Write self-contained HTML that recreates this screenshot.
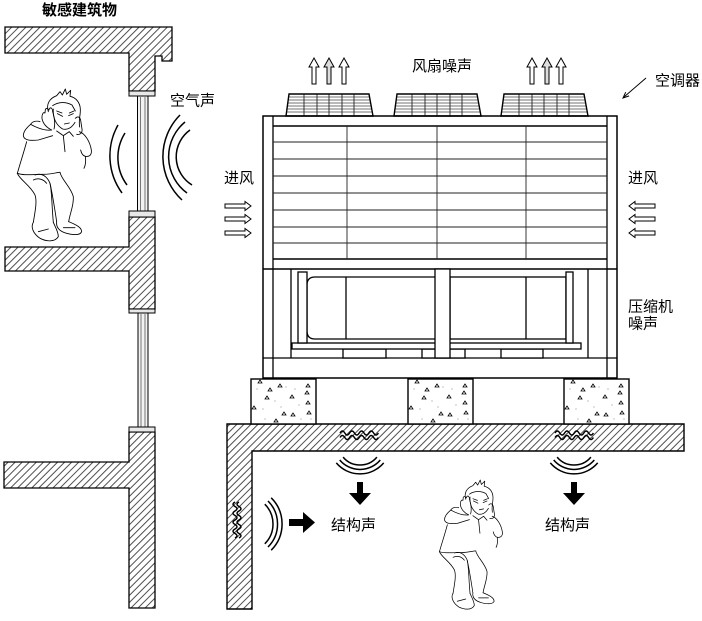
<!DOCTYPE html>
<html><head><meta charset="utf-8"><style>
html,body{margin:0;padding:0;background:#fff;}
svg{display:block;}
text{font-family:"Liberation Sans","Noto Sans CJK SC",sans-serif;font-size:15px;fill:#000;}
</style></head><body>
<svg width="702" height="621" viewBox="0 0 702 621" xmlns="http://www.w3.org/2000/svg">
<defs>
<pattern id="h" width="5" height="10" patternUnits="userSpaceOnUse" patternTransform="rotate(45)"><line x1="2.5" y1="-1" x2="2.5" y2="11" stroke="#222" stroke-width="0.8"/></pattern>
<clipPath id="fc"><polygon points="289,94 369,94 373,116 286,116"/></clipPath>
</defs>

<!-- Left building -->
<g fill="url(#h)" stroke="#000" stroke-width="1.3">
<polygon points="5,27 172,27 172,61 162,61 162,56 155,56 155,91 129,91 129,53 5,53"/>
<polygon points="129,217 155,217 155,309 129,309 129,271 5,271 5,247 129,247"/>
<polygon points="129,432 155,432 155,608 129,608 129,488 4,488 4,462 129,462"/>
</g>
<!-- windows -->
<g stroke="#000" stroke-width="1">
<rect x="129" y="91" width="26" height="5" fill="#e8e8e8"/>
<rect x="137.5" y="96" width="10.5" height="115" fill="#f2f2f2"/>
<line x1="140.5" y1="96" x2="140.5" y2="211" stroke="#777"/>
<line x1="145" y1="96" x2="145" y2="211" stroke="#777"/>
<rect x="129" y="211" width="26" height="6" fill="#e8e8e8"/>
<rect x="129" y="309" width="26" height="4" fill="#e8e8e8"/>
<rect x="138" y="313" width="10" height="114" fill="#f2f2f2"/>
<line x1="141" y1="313" x2="141" y2="427" stroke="#777"/>
<line x1="145" y1="313" x2="145" y2="427" stroke="#777"/>
<rect x="129" y="427" width="26" height="5" fill="#e8e8e8"/>
</g>

<!-- sound arcs near window -->
<g fill="none" stroke="#000" stroke-width="1.5">
<path d="M118,125 A63,63 0 0,0 122,193"/>
<path d="M125,133 A46,46 0 0,0 127,185"/>
<path d="M180,115 A59,59 0 0,0 182,200"/>
<path d="M185,122 A45,45 0 0,0 187,193"/>
<path d="M190,130 A33,33 0 0,0 192,185"/>
</g>

<!-- Person -->
<g id="man" transform="translate(10,85) scale(0.3333)" fill="none" stroke="#000" stroke-width="2.6" stroke-linejoin="round" stroke-linecap="round">
<path d="M115,80 C108,58 118,40 140,32 L150,20 L157,30 L166,12 L170,28 L182,16 L180,34 C198,38 210,52 211,72 C212,92 205,104 209,126"/>
<path d="M128,62 C145,50 168,50 186,60 L196,78"/>
<path d="M130,72 C128,98 138,120 158,132 C172,136 186,128 195,112"/>
<path d="M142,86 L158,94 M176,92 L190,86 M140,78 L156,84 M178,84 L192,78 M163,117 L178,114"/>
<path d="M125,135 C110,128 98,115 96,100 C95,88 100,80 105,84 L106,74 C108,68 115,70 116,76 L119,70 C124,66 128,72 128,80 C134,100 136,118 132,132"/>
<path d="M125,135 C105,138 80,128 62,118 C50,128 40,140 40,152 C42,165 60,168 85,165 L128,152"/>
<path d="M62,118 C66,110 78,106 90,110"/>
<path d="M50,170 C42,200 32,230 22,265"/>
<path d="M196,100 C203,92 210,96 212,106 L216,132 C218,144 210,150 200,148"/>
<path d="M208,140 C225,145 240,170 244,195 C246,210 238,216 226,214 C218,212 214,205 212,195"/>
<path d="M226,214 C228,228 228,238 222,250"/>
<path d="M22,265 C40,272 70,268 100,268 C125,268 140,262 150,262"/>
<path d="M140,138 L160,152 L178,140 L190,154 M160,152 L165,200"/>
<path d="M22,265 C30,285 60,300 75,330 C82,350 75,380 70,412"/>
<path d="M75,270 C95,262 112,275 120,295 C126,320 125,360 130,412"/>
<path d="M150,262 C155,285 182,305 190,335 C192,360 180,385 176,410"/>
<path d="M120,295 C128,330 134,370 140,410"/>
<path d="M70,285 C85,278 100,282 110,295"/>
<path d="M70,412 C62,425 68,445 90,460 C110,470 135,472 145,455 C145,440 135,425 130,412"/>
<path d="M140,410 C138,425 145,438 170,445 C190,450 210,452 215,440 C215,428 200,420 176,410"/>
<path d="M85,440 L115,432 M160,428 L195,428"/>
</g>
<use href="#man" transform="translate(440,480) scale(0.85) translate(-18,-89)"/>

<!-- AC unit frame -->
<g fill="none" stroke="#000">
<rect x="263" y="116" width="354" height="262" stroke-width="1.5"/>
<line x1="273" y1="116" x2="273" y2="378" stroke-width="1.3"/>
<line x1="607" y1="116" x2="607" y2="378" stroke-width="1.3"/>
<line x1="273" y1="126" x2="607" y2="126" stroke-width="1.4"/>
<line x1="273" y1="259" x2="607" y2="259" stroke-width="1.4"/>
<line x1="263" y1="269" x2="617" y2="269" stroke-width="1.4"/>
<line x1="263" y1="358" x2="617" y2="358" stroke-width="1.3"/>
<g stroke-width="0.9" stroke="#222">
<line x1="273" y1="142" x2="607" y2="142"/>
<line x1="273" y1="159" x2="607" y2="159"/>
<line x1="273" y1="176" x2="607" y2="176"/>
<line x1="273" y1="193" x2="607" y2="193"/>
<line x1="273" y1="210" x2="607" y2="210"/>
<line x1="273" y1="227" x2="607" y2="227"/>
<line x1="273" y1="243" x2="607" y2="243"/>
<line x1="347" y1="126" x2="347" y2="259"/>
<line x1="437" y1="126" x2="437" y2="259"/>
<line x1="526" y1="126" x2="526" y2="259"/>
</g>
</g>

<!-- Fans -->
<g id="fan">
<g clip-path="url(#fc)" stroke="#444" stroke-width="0.7">
<line x1="280" y1="97" x2="380" y2="97"/>
<line x1="280" y1="100" x2="380" y2="100"/>
<line x1="280" y1="103" x2="380" y2="103"/>
<line x1="280" y1="106" x2="380" y2="106"/>
<line x1="280" y1="109" x2="380" y2="109"/>
<line x1="280" y1="112" x2="380" y2="112"/>
</g>
<g stroke="#222" stroke-width="0.9">
<line x1="304" y1="94" x2="304" y2="116"/>
<line x1="317" y1="94" x2="317" y2="116"/>
<line x1="329" y1="94" x2="329" y2="116"/>
<line x1="342" y1="94" x2="342" y2="116"/>
<line x1="354" y1="94" x2="354" y2="116"/>
</g>
<polygon points="289,94 369,94 373,116 286,116" fill="none" stroke="#000" stroke-width="1.4"/>
</g>
<use href="#fan" transform="translate(108,0)"/>
<use href="#fan" transform="translate(215,0)"/>

<!-- Compressor section -->
<g fill="none" stroke="#000" stroke-width="1.3">
<line x1="291" y1="269" x2="291" y2="358"/>
<line x1="588" y1="269" x2="588" y2="358"/>
<rect x="343" y="349" width="43" height="9" fill="#fff"/>
<rect x="422" y="349" width="43" height="9" fill="#fff"/>
<rect x="501" y="349" width="42" height="9" fill="#fff"/>
<rect x="292" y="343" width="289" height="6" fill="#fff"/>
<path d="M435,277 L315,277 Q307,277 307,285 L307,331 Q307,339 315,339 L435,339"/>
<line x1="346" y1="277" x2="346" y2="339"/>
<rect x="450" y="277" width="116" height="62"/>
<line x1="526" y1="277" x2="526" y2="339"/>
<rect x="298" y="272" width="9" height="71" fill="#fff"/>
<rect x="566" y="272" width="7" height="71" fill="#fff"/>
<rect x="435" y="269" width="15" height="89" fill="#fff"/>
</g>

<!-- Floor slab & wall -->
<polygon points="227,424 684,424 684,451 252,451 252,609 227,609" fill="url(#h)" stroke="#000" stroke-width="1.4"/>

<!-- Concrete blocks -->
<g id="blk" transform="translate(251,379)">
<rect x="0" y="0" width="65" height="45" fill="#fff" stroke="#000" stroke-width="1.4"/>
<g fill="none" stroke="#000" stroke-width="0.8">
<path d="M19,9 l2,3 h-4z M29,5 l2,3 h-4z M57,5 l2,3 h-4z M16,17 l2,3 h-4z M41,16 l2,3 h-4z M56,12 l2,3 h-4z M57,22 l2,3 h-4z M33,33 l2,3 h-4z M42,34 l2,3 h-4z M58,32 l2,3 h-4z M3,27 l2,3 h-4z M9,1 l2,3 h-4z M25,40 l2,3 h-4z"/>
</g>
<g fill="#999">
<circle cx="6" cy="10" r="0.6"/><circle cx="12" cy="30" r="0.6"/><circle cx="24" cy="22" r="0.6"/><circle cx="35" cy="8" r="0.6"/><circle cx="48" cy="26" r="0.6"/><circle cx="50" cy="40" r="0.6"/><circle cx="14" cy="40" r="0.6"/><circle cx="30" cy="28" r="0.6"/><circle cx="44" cy="10" r="0.6"/><circle cx="60" cy="40" r="0.6"/>
</g>
</g>
<use href="#blk" transform="translate(157,0)"/>
<use href="#blk" transform="translate(313,0)"/>

<!-- wavy vibration lines -->
<g fill="none" stroke="#000" stroke-width="1.4">
<path d="M340,433 q2.4,-4 4.8,0 t4.8,0 t4.8,0 t4.8,0 t4.8,0 t4.8,0 t4.8,0 t4.8,0"/>
<path d="M340,437.5 q2.4,-4 4.8,0 t4.8,0 t4.8,0 t4.8,0 t4.8,0 t4.8,0 t4.8,0 t4.8,0"/>
<path d="M555,433 q2.4,-4 4.8,0 t4.8,0 t4.8,0 t4.8,0 t4.8,0 t4.8,0 t4.8,0 t4.8,0"/>
<path d="M555,437.5 q2.4,-4 4.8,0 t4.8,0 t4.8,0 t4.8,0 t4.8,0 t4.8,0 t4.8,0 t4.8,0"/>
<path d="M235,502 q-4,2.25 0,4.5 t0,4.5 t0,4.5 t0,4.5 t0,4.5 t0,4.5 t0,4.5 t0,4.5"/>
<path d="M239,502 q-4,2.25 0,4.5 t0,4.5 t0,4.5 t0,4.5 t0,4.5 t0,4.5 t0,4.5 t0,4.5"/>
</g>

<!-- Structure sound arcs -->
<g fill="none" stroke="#000" stroke-width="1.5">
<path d="M343.1,457.1 A22,22 0 0,0 376.9,457.1"/>
<path d="M339.7,460 A26.5,26.5 0 0,0 380.3,460"/>
<path d="M336.3,462.9 A31,31 0 0,0 383.7,462.9"/>
<path d="M557.1,457.1 A22,22 0 0,0 590.9,457.1"/>
<path d="M553.7,460 A26.5,26.5 0 0,0 594.3,460"/>
<path d="M550.3,462.9 A31,31 0 0,0 597.7,462.9"/>
<path d="M264.8,504.2 A28,28 0 0,1 264.8,543.8"/>
<path d="M268,501 A32.5,32.5 0 0,1 268,547"/>
<path d="M271.2,497.8 A37,37 0 0,1 271.2,550.2"/>
</g>

<!-- Solid arrows -->
<g fill="#000">
<polygon points="357,482 363,482 363,493 371,493 360,505 349,493 357,493"/>
<polygon points="571,482 577,482 577,493 585,493 574,505 563,493 571,493"/>
<polygon points="289,519 303,519 303,512 315,522.5 303,533 303,526 289,526"/>
</g>

<!-- Hollow arrows -->
<g fill="#fff" stroke="#000" stroke-width="1">
<polygon points="314,58 319,67 316,67 316,84 312,84 312,67 309,67"/>
<polygon points="329,58 334,67 331,67 331,84 327,84 327,67 324,67" fill="#ddd"/>
<polygon points="344,58 349,67 346,67 346,84 342,84 342,67 339,67"/>
<polygon points="532,58 537,67 534,67 534,84 530,84 530,67 527,67"/>
<polygon points="547,58 552,67 549,67 549,84 545,84 545,67 542,67" fill="#ddd"/>
<polygon points="561,58 566,67 563,67 563,84 559,84 559,67 556,67"/>
<polygon points="225,204 245,204 245,201.5 251,206 245,210.5 245,208 225,208"/>
<polygon points="225,217 245,217 245,214.5 251,219 245,223.5 245,221 225,221"/>
<polygon points="225,231 245,231 245,228.5 251,233 245,237.5 245,235 225,235"/>
<polygon points="655,204 635,204 635,201.5 629,206 635,210.5 635,208 655,208"/>
<polygon points="655,217 635,217 635,214.5 629,219 635,223.5 635,221 655,221"/>
<polygon points="655,231 635,231 635,228.5 629,233 635,237.5 635,235 655,235"/>
</g>

<!-- 空调器 pointer -->
<g stroke="#000" stroke-width="1" fill="none">
<line x1="646" y1="78" x2="624" y2="97"/>
<polyline points="629.1,95.85 623,98 625.7,92.15"/>
</g>

<!-- Labels -->
<text x="42" y="15" font-weight="bold">敏感建筑物</text>
<text x="170" y="105.5">空气声</text>
<text x="412" y="71">风扇噪声</text>
<text x="655" y="85.5">空调器</text>
<text x="224" y="183">进风</text>
<text x="628" y="183">进风</text>
<text x="628" y="311.5">压缩机</text>
<text x="628" y="328.5">噪声</text>
<text x="331" y="530">结构声</text>
<text x="545" y="530">结构声</text>
</svg>
</body></html>
